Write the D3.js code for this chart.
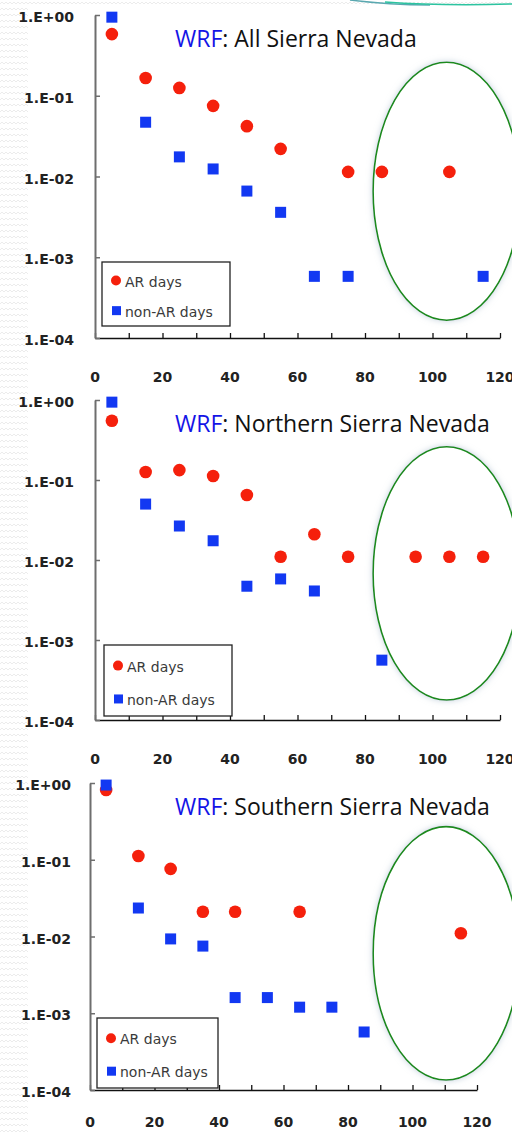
<!DOCTYPE html>
<html>
<head>
<meta charset="utf-8">
<script src="https://cdn.jsdelivr.net/npm/d3@7"></script>
<style>
  html, body { margin: 0; padding: 0; background: #fff; }
  svg { display: block; }
</style>
</head>
<body>
<div id="chart"></div>
<script>
// bins (x = midpoint of each 10-unit bin)
var xBins = [5, 15, 25, 35, 45, 55, 65, 75, 85, 95, 105, 115];
var xTickLabels = [0, 20, 40, 60, 80, 100, 120];
var yTickValues = [1, 1e-1, 1e-2, 1e-3, 1e-4];
var yTickLabels = ["1.E+00", "1.E-01", "1.E-02", "1.E-03", "1.E-04"];
var legendLabels = ["AR days", "non-AR days"];
var panelTitles = ["All Sierra Nevada", "Northern Sierra Nevada", "Southern Sierra Nevada"];

// values (null = no point)
var allAR    = [0.58, 0.166, 0.125, 0.075, 0.042, 0.022, null, 0.0114, 0.0114, null, 0.0114, null];
var allNonAR = [0.94, 0.047, 0.0175, 0.0124, 0.0066, 0.0036, 0.00058, 0.00058, null, null, null, 0.00058];
var northAR    = [0.55, 0.126, 0.133, 0.112, 0.065, 0.011, 0.021, 0.011, null, 0.011, 0.011, 0.011];
var northNonAR = [0.94, 0.05, 0.0266, 0.0174, 0.0047, 0.0058, 0.0041, null, 0.00056, null, null, null];
var southAR    = [0.81, 0.112, 0.076, 0.021, 0.021, null, 0.021, null, null, null, null, 0.011];
var southNonAR = [0.94, 0.0235, 0.0093, 0.0075, 0.0016, 0.0016, 0.0012, 0.0012, 0.00057, null, null, null];

// circled region of each panel, in data units
var circledX = [[82.4, 126], [82.4, 126], [87.8, 133]];
var circledY = [[0.26, 1.66e-4], [0.26, 1.78e-4], [0.27, 1.35e-4]];

var W = 512, H = 1133;

// plot boxes (pixel layout)
var panels = [
    {left: 95, right: 500, top: 15,  bottom: 338,  labGap: 21, xlabY: 44, ar: allAR,   non: allNonAR,   legend: {x: 102, y: 262, w: 128, h: 64}},
    {left: 95, right: 500, top: 400, bottom: 720,  labGap: 21, xlabY: 44, ar: northAR, non: northNonAR, legend: {x: 104, y: 645, w: 128, h: 71}},
    {left: 90, right: 477, top: 783, bottom: 1090, labGap: 19, xlabY: 37, ar: southAR, non: southNonAR, legend: {x: 97, y: 1018, w: 121, h: 70}}
];

var svg = d3.select("#chart").append("svg")
    .attr("width", W)
    .attr("height", H);

// background texture
var defs = svg.append("defs");
var pat = defs.append("pattern")
    .attr("id", "zig")
    .attr("width", 8).attr("height", 6)
    .attr("patternUnits", "userSpaceOnUse");
pat.append("path")
    .attr("d", "M0,4 L2,2 L4,4 L6,2 L8,4")
    .attr("fill", "none")
    .attr("stroke", "#ececec")
    .attr("stroke-width", 1);

var shadow = defs.append("filter").attr("id", "glow")
    .attr("x", "-20%").attr("y", "-20%").attr("width", "140%").attr("height", "140%");
shadow.append("feGaussianBlur").attr("in", "SourceAlpha").attr("stdDeviation", 3).attr("result", "b");
shadow.append("feFlood").attr("flood-color", "#9fb4c8").attr("flood-opacity", 0.6);
shadow.append("feComposite").attr("in2", "b").attr("operator", "in").attr("result", "s");
var mrg = shadow.append("feMerge");
mrg.append("feMergeNode").attr("in", "s");
mrg.append("feMergeNode").attr("in", "SourceGraphic");

svg.append("rect").attr("width", W).attr("height", H).attr("fill", "url(#zig)");
svg.append("rect").attr("x", 28).attr("y", 8).attr("width", W - 28).attr("height", H - 8).attr("fill", "#fff");

// teal swoosh at the top right
svg.append("path")
    .attr("d", "M350,0 Q390,5 430,5")
    .attr("fill", "none").attr("stroke", "#5aa8b0").attr("stroke-width", 1.5);
svg.append("path")
    .attr("d", "M385,2 Q440,6 512,4")
    .attr("fill", "none").attr("stroke", "#2cc4a0").attr("stroke-width", 1.5);

panels.forEach(function(p, i){
    var x = d3.scaleLinear().domain([0, 120]).range([p.left, p.right]);
    var y = d3.scaleLog().domain([1, 1e-4]).range([p.top, p.bottom]);
    var g = svg.append("g");

    // circled region
    var ex = circledX[i], ey = circledY[i];
    g.append("ellipse")
        .attr("cx", (x(ex[0]) + x(ex[1])) / 2)
        .attr("cy", (y(ey[0]) + y(ey[1])) / 2)
        .attr("rx", (x(ex[1]) - x(ex[0])) / 2)
        .attr("ry", (y(ey[1]) - y(ey[0])) / 2)
        .attr("fill", "#fff")
        .attr("stroke", "#1b8a1b")
        .attr("stroke-width", 1.6)
        .attr("filter", "url(#glow)");

    // x axis: ticks pointing up at every 10
    var xAxis = d3.axisBottom(x)
        .tickValues(d3.range(0, 121, 10))
        .tickSize(-5)
        .tickSizeOuter(0)
        .tickFormat("");
    var xa = g.append("g")
        .attr("transform", "translate(0," + p.bottom + ")")
        .call(xAxis);
    xa.select(".domain").attr("stroke", "#111").attr("stroke-width", 1.6);
    xa.selectAll(".tick line").attr("stroke", "#111").attr("stroke-width", 1.3);

    g.selectAll(".xlab")
        .data(xTickLabels)
        .enter().append("text")
        .attr("x", function(d){ return x(d); })
        .attr("y", p.bottom + p.xlabY)
        .attr("text-anchor", "middle")
        .style("font-family", "DejaVu Sans")
        .style("font-weight", "bold")
        .style("font-size", "14px")
        .attr("fill", "#222")
        .text(function(d){ return d; });

    // y axis: gray line, ticks pointing right
    var yAxis = d3.axisRight(y)
        .tickValues(yTickValues)
        .tickSize(5)
        .tickSizeOuter(0)
        .tickFormat("");
    var ya = g.append("g")
        .attr("transform", "translate(" + p.left + ",0)")
        .call(yAxis);
    ya.select(".domain").attr("stroke", "#6e6e6e").attr("stroke-width", 2);
    ya.selectAll(".tick line").attr("stroke", "#6e6e6e").attr("stroke-width", 1.5);

    g.selectAll(".ylab")
        .data(yTickValues)
        .enter().append("text")
        .attr("x", p.left - p.labGap)
        .attr("y", function(d){ return y(d) + 7; })
        .attr("text-anchor", "end")
        .style("font-family", "DejaVu Sans")
        .style("font-weight", "bold")
        .style("font-size", "14px")
        .attr("fill", "#222")
        .text(function(d, k){ return yTickLabels[k]; });

    // title
    var t = g.append("text")
        .attr("x", 175)
        .attr("y", y(1) + 32)
        .style("font-family", "Open Sans")
        .style("font-size", "23px")
        .attr("fill", "#111");
    t.append("tspan").attr("fill", "#1414e6").text("WRF");
    t.append("tspan").text(": " + panelTitles[i]);

    // points
    var arPts = xBins.map(function(b, k){ return {x: b, v: p.ar[k]}; }).filter(function(d){ return d.v != null; });
    var nonPts = xBins.map(function(b, k){ return {x: b, v: p.non[k]}; }).filter(function(d){ return d.v != null; });

    g.selectAll(".ar")
        .data(arPts)
        .enter().append("circle")
        .attr("class", "ar")
        .attr("cx", function(d){ return x(d.x); })
        .attr("cy", function(d){ return y(d.v); })
        .attr("r", 6.3)
        .attr("fill", "#f5200c");

    var sq = 11;
    g.selectAll(".non")
        .data(nonPts)
        .enter().append("rect")
        .attr("class", "non")
        .attr("x", function(d){ return x(d.x) - sq / 2; })
        .attr("y", function(d){ return y(d.v) - sq / 2; })
        .attr("width", sq)
        .attr("height", sq)
        .attr("fill", "#1238f2");

    // legend
    var L = p.legend;
    var lg = g.append("g").attr("transform", "translate(" + L.x + "," + L.y + ")");
    lg.append("rect")
        .attr("width", L.w).attr("height", L.h)
        .attr("fill", "#fff")
        .attr("stroke", "#222")
        .attr("stroke-width", 1.3);
    var row1 = L.h * 0.29, row2 = L.h * 0.76;
    lg.append("circle").attr("cx", 14).attr("cy", row1).attr("r", 5).attr("fill", "#f5200c");
    lg.append("rect").attr("x", 10).attr("y", row2 - 4.5).attr("width", 9).attr("height", 9).attr("fill", "#1238f2");
    lg.selectAll(".lt")
        .data(legendLabels)
        .enter().append("text")
        .attr("x", 23)
        .attr("y", function(d, k){ return (k === 0 ? row1 : row2) + 6; })
        .style("font-family", "DejaVu Sans")
        .style("font-size", "14px")
        .attr("fill", "#3a3a3a")
        .text(function(d){ return d; });
});
</script>
</body>
</html>
